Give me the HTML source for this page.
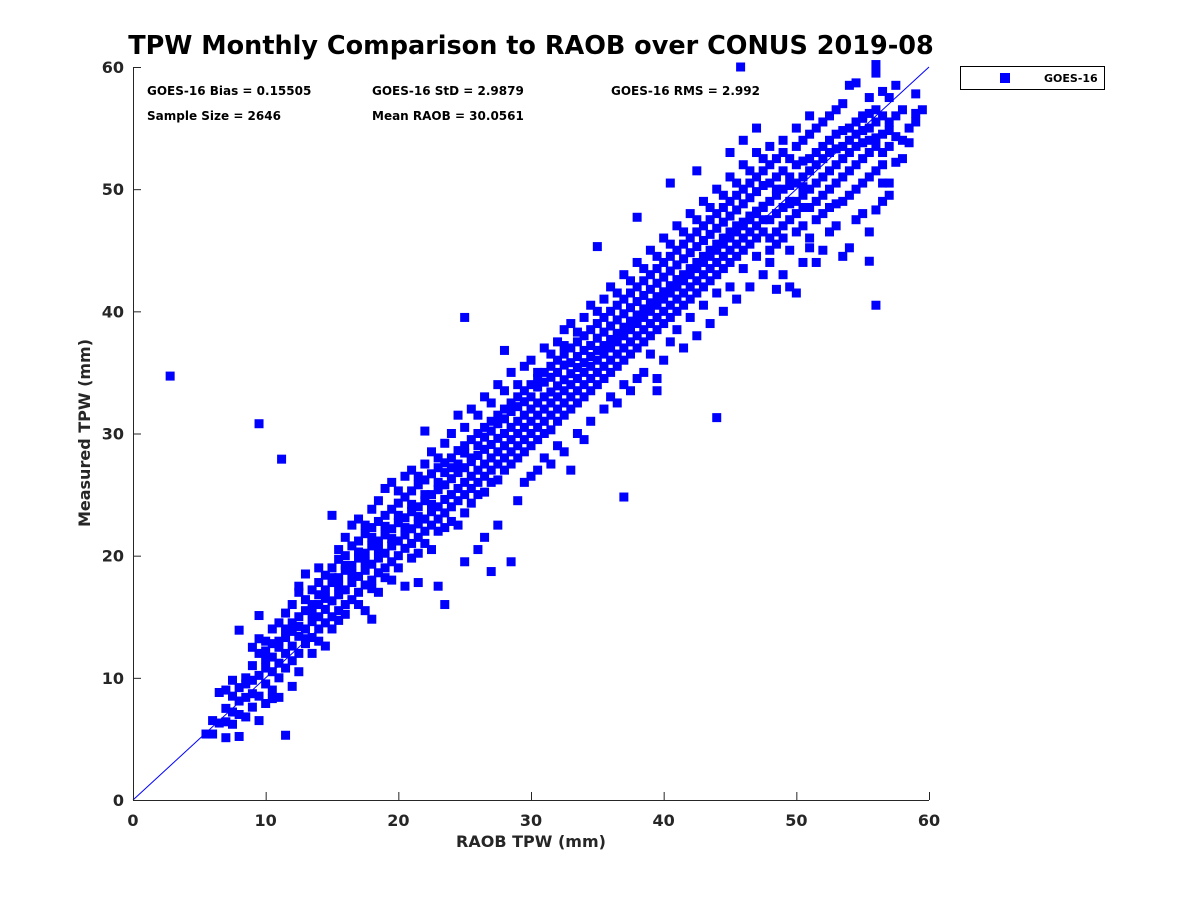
<!DOCTYPE html>
<html><head><meta charset="utf-8"><style>
body{margin:0;background:#fff;}
svg{display:block;font-family:"DejaVu Sans","Liberation Sans",sans-serif;}
</style></head><body>
<svg id="chart" width="1200" height="900">
<text x="531" y="54" text-anchor="middle" font-size="25.5" font-weight="bold" fill="#000">TPW Monthly Comparison to RAOB over CONUS 2019-08</text>
<g font-size="12" font-weight="bold" fill="#000">
<text x="147" y="95">GOES-16 Bias = 0.15505</text>
<text x="372" y="95">GOES-16 StD = 2.9879</text>
<text x="611" y="95">GOES-16 RMS = 2.992</text>
<text x="147" y="120">Sample Size = 2646</text>
<text x="372" y="120">Mean RAOB = 30.0561</text>
</g>
<g id="marks"></g>
<g id="axes"></g>
<text x="531" y="847" text-anchor="middle" font-size="16" font-weight="bold" fill="#262626">RAOB TPW (mm)</text>
<text transform="translate(90,433) rotate(-90)" text-anchor="middle" font-size="16" font-weight="bold" fill="#262626">Measured TPW (mm)</text>
<g>
<rect x="960.5" y="66.5" width="144" height="23" fill="#fff" stroke="#000"/>
<rect x="1000" y="73" width="10" height="10" fill="#0000ff"/>
<text x="1044" y="82" font-size="11" font-weight="bold" fill="#000">GOES-16</text>
</g>
</svg>
<script>
const xTicks=[0,10,20,30,40,50,60];
const yTicks=[0,10,20,30,40,50,60];
const colX=[5.5,6,6.5,7,7.5,8,8.5,9,9.5,10,10.5,11,11.5,12,12.5,13,13.5,14,14.5,15,15.5,16,16.5,17,17.5,18,18.5,19,19.5,20,20.5,21,21.5,22,22.5,23,23.5,24,24.5,25,25.5,26,26.5,27,27.5,28,28.5,29,29.5,30,30.5,31,31.5,32,32.5,33,33.5,34,34.5,35,35.5,36,36.5,37,37.5,38,38.5,39,39.5,40,40.5,41,41.5,42,42.5,43,43.5,44,44.5,45,45.5,46,46.5,47,47.5,48,48.5,49,49.5,50,50.5,51,51.5,52,52.5,53,53.5,54,54.5,55,55.5,56,56.5,57,57.5,58,58.5,59,59.5];
const colY=[[5.4],[6.5,5.4],[8.8,6.3],[9,7.5,5.1,6.4],[8.5,9.8,6.2,7.2],[9.2,7,8.1,13.9,5.2],[10,8.4,9.5,6.8],[11,8.7,9.8,12.5,7.6],[12,10.2,8.5,13.2,6.5,15.1],[11.5,13,9.5,10.8,12.2,7.9],[12.8,10.5,11.7,14,9,8.3],[13,11.2,12.5,10,14.5,8.4],[14,12,13.3,10.8,15.3,5.3],[14.5,12.6,13.8,11.4,16,9.3],[15,13.4,14.2,12,17,10.5,17.5],[15.5,14,16.4,12.8,13.2,18.5],[16,14.6,17.2,13.3,15.3,12],[16.8,15,17.8,14,16,13,19],[17.2,15.6,18.4,14.5,16.5,12.6],[17.8,16.3,19,15,18.2,14,23.3],[18.2,16.8,19.7,15.5,17.5,20.5,14.7],[18.8,17.2,20,16,19.2,21.5,15.2],[19.2,17.8,20.8,16.4,18.5,22.5],[19.8,18.3,21.2,17,20.3,23,16],[20.2,18.8,21.8,17.6,19.5,22.5,15.5],[20.8,19.3,22.3,18,21.5,17.3,23.8,14.8],[21.2,19.8,22.8,18.6,20.5,24.5,17],[21.7,20.2,23.3,19,22.4,18.2,25.5],[22.2,20.8,23.8,19.5,21.4,26,18],[22.7,21.2,24.3,20,23.3,25.3,19],[23.1,21.7,24.8,20.6,22.3,26.5,17.5],[23.6,22.2,25.3,21,24.2,27,19.8],[24,22.6,25.8,21.5,23.2,26.5,20.2,17.8],[24.5,23,26.2,22,25,27.5,21,30.2],[25,23.6,26.7,22.5,24.2,28.5,20.5],[25.4,24,27.2,23,26,28,22,17.5],[25.8,24.6,27.6,23.5,26.8,29.2,22.3,16],[26.3,25,28,24,27.2,30,22.8],[26.8,25.5,28.6,24.5,27.5,31.5,22.5],[27.2,26,29,25,28.4,30.5,23.5,19.5,39.5],[27.7,26.5,29.5,25.5,28,32,24.3],[28.2,27,30,26,29,31.5,25,20.5],[28.7,27.5,30.5,26.5,29.7,33,25.2,21.5],[29.1,28,31,27,30.2,32.5,26,18.7],[29.6,28.5,31.5,27.5,30.8,34,26.2,22.5],[30,29,32,28,31.2,33.5,27,36.8],[30.5,29.5,32.5,28.5,31.8,35,27.5,19.5],[31,30,33,29,32.2,34,28,24.5],[31.5,30.5,33.5,29.5,32.6,35.5,28.5,26],[32,31,34,30,33,36,29,26.5],[32.5,31.5,34.5,30.5,33.8,35,29.5,27],[33,32,35,31,34.2,37,30,28],[33.4,32.5,35.5,31.5,34.6,36.5,30.3,27.5],[33.9,33,36,32,35,37.5,31,29],[34.4,33.5,36.5,32.5,35.6,38.5,31.5,28.5,37.2],[34.9,34,37,33,35.8,39,32,27],[35.4,34.5,37.5,33.5,36.3,38.3,32.5,30],[35.8,35,38,34,36.8,39.5,33,29.5],[36.3,35.5,38.5,34.5,37.2,40.5,33.5,31],[36.8,36,39,35,37.8,40,34,45.3],[37.2,36.5,39.5,35.5,38.3,41,34.5,32],[37.7,37,40,36,38.8,42,35,33],[38.2,37.5,40.5,36.5,39.3,41.5,35.5,32.5],[38.7,38,41,37,39.8,43,36,34,24.8],[39.2,38.5,41.5,37.5,40.3,42.5,36.5,33.5],[39.7,39,42,38,40.8,44,37,34.5,47.7],[40.2,39.5,42.5,38.5,41.3,43.5,37.5,35],[40.7,40,43,39,41.8,45,38,36.5],[41.2,40.5,43.5,39.5,42.3,44.5,38.5,34.5,33.5],[41.6,41,44,40,42.8,46,39,36],[42.1,41.5,44.5,40.5,43.3,45.5,39.5,37.5,50.5],[42.6,42,45,41,43.8,47,40,38.5],[43,42.5,45.5,41.5,44.3,46.5,40.5,37],[43.5,43,46,42,44.8,48,41,39.5],[44,43.5,46.5,42.5,45.3,47.5,41.5,38,51.5],[44.5,44,47,43,45.8,49,42,40.5],[45,44.5,47.5,43.5,46.3,48.5,42.5,39],[45.5,45,48,44,46.8,50,43,41.5,31.3],[46,45.5,48.5,44.5,47.3,49.5,43.5,40],[46.5,46,49,45,47.8,51,44,42,53],[47,46.5,49.5,45.5,48.3,50.5,44.5,41],[47.3,47,50,46,48.8,52,45,43.5,54],[47.8,47.5,50.5,46.5,49.3,51.5,45.5,42],[48.2,48,51,47,49.8,53,46,44.5,55],[48.6,48.5,51.5,47.5,50.3,52.5,46.5,43],[49,47.5,52,46,50.5,53.5,45,44],[49.5,48,52.5,46.5,51,50,45.5,41.8],[50,48.5,53,47,51.5,54,46,43],[50.3,48.8,52.5,47.5,51,49,45,42],[50.5,49,53.5,48,52,55,46.5,41.5],[51,49.5,54,48.5,52.3,50.2,47,44],[51.5,50,54.5,48.5,52.5,56,46,45.2],[52,50.5,55,49,53,47.5,44],[52.5,51,55.5,49.5,53.5,48,45],[53,51.5,56,50,54,48.5,46.5],[53.3,52,56.5,50.5,54.5,48.8,47],[53.5,52.5,57,51,54.8,49,44.5],[54,53,58.5,51.5,55,49.5,45.2],[54.5,53.5,58.7,52,55.5,50,47.5],[54.8,53.8,56,52.5,55.8,50.5,48],[55,54,57.5,53,56.2,51,46.5,44.1],[55.5,54.2,59.5,53.5,56.5,51.5,48.3,40.5,60.2],[56,54.5,58,53,52,50.5,49],[55.5,57.5,53.5,54.8,50.5,49.5],[58.5,56,52.2,54.3],[54,56.5,52.5],[55,53.8],[57.8,55.5,56.2],[56.5]];
const outX=[2.8,9.5,11.2,45.8];
const outY=[34.7,30.8,27.9,60];

const NS="http://www.w3.org/2000/svg";
const X0=133,X1=929,Y0=800,Y1=67;
const sx=v=>X0+(v-0)/(60-0)*(X1-X0);
const sy=v=>Y0-(v-0)/(60-0)*(Y0-Y1);
function mk(tag,attrs){const e=document.createElementNS(NS,tag);for(const k in attrs)e.setAttribute(k,attrs[k]);return e;}
const marks=document.getElementById('marks');
const axes=document.getElementById('axes');

const diag=mk('line',{x1:sx(0),y1:sy(0),x2:sx(60),y2:sy(60),stroke:'#0000ff','stroke-width':1});


marks.appendChild(diag);

const S=9;
function pt(x,y){
  const r=mk('rect',{x:sx(x)-S/2,y:sy(y)-S/2,width:S,height:S,fill:'#0000ff'});
  
  
  marks.appendChild(r);
}
colX.forEach((x,i)=>colY[i].forEach(y=>pt(x,y)));
outX.forEach((x,i)=>pt(x,outY[i]));

const xl=mk('line',{x1:X0,y1:Y0+0.5,x2:X1,y2:Y0+0.5,stroke:'#262626','stroke-width':1});


axes.appendChild(xl);
const yl=mk('line',{x1:X0+0.5,y1:Y0,x2:X0+0.5,y2:Y1,stroke:'#262626','stroke-width':1});


axes.appendChild(yl);

xTicks.forEach(v=>{
  const t=mk('line',{x1:sx(v)+0.5,y1:Y0,x2:sx(v)+0.5,y2:Y0-8,stroke:'#262626'});
  
  
  axes.appendChild(t);
  const l=mk('text',{x:sx(v),y:Y0+26,'text-anchor':'middle','font-size':16,'font-weight':'bold',fill:'#262626'});
  l.textContent=v;
  
  
  axes.appendChild(l);
});
yTicks.forEach(v=>{
  const t=mk('line',{x1:X0,y1:sy(v)+0.5,x2:X0+8,y2:sy(v)+0.5,stroke:'#262626'});
  
  
  axes.appendChild(t);
  const l=mk('text',{x:X0-9,y:sy(v)+6,'text-anchor':'end','font-size':16,'font-weight':'bold',fill:'#262626'});
  l.textContent=v;
  
  
  axes.appendChild(l);
});
</script>
</body></html>
